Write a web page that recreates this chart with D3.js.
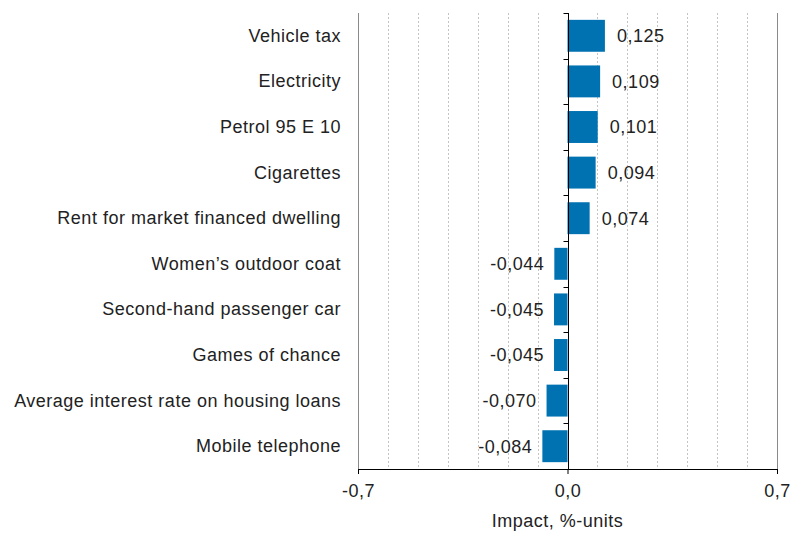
<!DOCTYPE html>
<html>
<head>
<meta charset="utf-8">
<script src="https://cdn.jsdelivr.net/npm/d3@7"></script>
<style>
  body { margin: 0; background: #fff; }
  svg text { font-family: "Liberation Sans", Arial, sans-serif; fill: #222; letter-spacing: 0.5px; }
</style>
</head>
<body>
<div id="chart"></div>
<script>
// data
var categories = ["Vehicle tax", "Electricity", "Petrol 95 E 10", "Cigarettes",
  "Rent for market financed dwelling", "Women's outdoor coat", "Second-hand passenger car",
  "Games of chance", "Average interest rate on housing loans", "Mobile telephone"];
var values = [0.125, 0.109, 0.101, 0.094, 0.074, -0.044, -0.045, -0.045, -0.070, -0.084];
var tickValues = [-0.7, 0, 0.7];
var gridValues = [-0.6, -0.5, -0.4, -0.3, -0.2, -0.1, 0.1, 0.2, 0.3, 0.4, 0.5, 0.6];
var axisTitle = "Impact, %-units";

var width = 790, height = 534;
var margin = {top: 13, right: 13, bottom: 65, left: 358};
var w = width - margin.left - margin.right;
var h = height - margin.top - margin.bottom;

var fmt = function (v) { return d3.format(".3f")(v).replace(".", ",").replace("−", "-"); };
var fmtTick = function (v) { return d3.format(".1f")(v).replace(".", ",").replace("−", "-"); };

var data = categories.map(function (c, i) { return {name: c, value: values[i]}; });

var svg = d3.select("#chart").append("svg")
    .attr("width", width)
    .attr("height", height);
var g = svg.append("g")
    .attr("transform", "translate(" + margin.left + "," + margin.top + ")");

var x = d3.scaleLinear().domain([-0.7, 0.7]).range([0, w]);
var y = d3.scaleBand().domain(categories).range([0, h]).paddingInner(0.3).paddingOuter(0.15);

// dotted gridlines
g.selectAll(".grid")
    .data(gridValues)
    .enter().append("line")
    .attr("x1", function (d) { return Math.round(x(d)) + 0.5; })
    .attr("x2", function (d) { return Math.round(x(d)) + 0.5; })
    .attr("y1", 0)
    .attr("y2", h)
    .attr("stroke", "#c4c4c4")
    .attr("stroke-dasharray", "2,2");

// solid border lines at the ends
g.selectAll(".edge")
    .data(tickValues.filter(function (d) { return d !== 0; }))
    .enter().append("line")
    .attr("x1", function (d) { return Math.round(x(d)) + 0.5; })
    .attr("x2", function (d) { return Math.round(x(d)) + 0.5; })
    .attr("y1", 0)
    .attr("y2", h)
    .attr("stroke", "#8a8a8a");

// bars
g.selectAll(".bar")
    .data(data)
    .enter().append("rect")
    .attr("class", "bar")
    .attr("x", function (d) { return x(Math.min(0, d.value)); })
    .attr("y", function (d) { return y(d.name); })
    .attr("width", function (d) { return Math.abs(x(d.value) - x(0)); })
    .attr("height", y.bandwidth())
    .attr("fill", "#0072b2");

// value labels
g.selectAll(".label")
    .data(data)
    .enter().append("text")
    .attr("x", function (d) { return d.value >= 0 ? x(d.value) + 12 : x(d.value) - 10; })
    .attr("y", function (d) { return y(d.name) + y.bandwidth() / 2; })
    .attr("dy", "0.35em")
    .attr("text-anchor", function (d) { return d.value >= 0 ? "start" : "end"; })
    .style("font-size", "18px")
    .text(function (d) { return fmt(d.value); });

// zero line with ticks between categories
var zx = Math.round(x(0)) + 0.5;
g.append("line")
    .attr("x1", zx).attr("x2", zx)
    .attr("y1", 0).attr("y2", h)
    .attr("stroke", "#000");
g.selectAll(".ytick")
    .data(d3.range(categories.length))
    .enter().append("line")
    .attr("x1", zx - 5).attr("x2", zx)
    .attr("y1", function (i) { return Math.round(i * h / categories.length) + 0.5; })
    .attr("y2", function (i) { return Math.round(i * h / categories.length) + 0.5; })
    .attr("stroke", "#000");

// category labels
g.selectAll(".cat")
    .data(data)
    .enter().append("text")
    .attr("x", -17)
    .attr("y", function (d) { return y(d.name) + y.bandwidth() / 2; })
    .attr("dy", "0.33em")
    .attr("text-anchor", "end")
    .style("font-size", "18px")
    .text(function (d) { return d.name.replace("'", "\u2019"); });

// bottom axis
var xAxis = d3.axisBottom(x).tickValues(tickValues).tickSize(5).tickFormat(fmtTick);
var gx = g.append("g")
    .attr("transform", "translate(0," + h + ")")
    .call(xAxis);
gx.select(".domain").attr("stroke", "#000");
gx.selectAll(".tick line").attr("stroke", "#000");
gx.selectAll(".tick text")
    .attr("y", 15)
    .style("font-size", "18px")
    .style("font-family", "Liberation Sans, Arial, sans-serif")
    .attr("fill", "#222");

g.append("text")
    .attr("x", x(0) - 10)
    .attr("y", h + 58)
    .attr("text-anchor", "middle")
    .style("font-size", "18px")
    .text(axisTitle);
</script>
</body>
</html>
